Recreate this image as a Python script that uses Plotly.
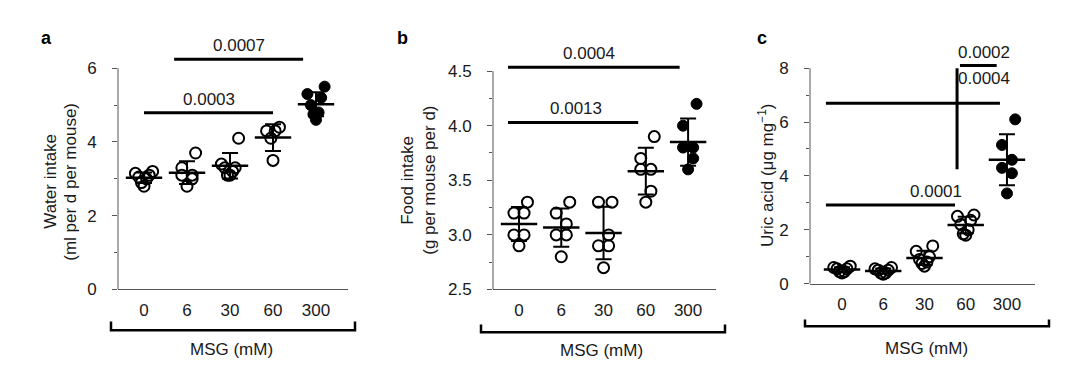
import statistics
import plotly.graph_objects as go

# ---------------- data ----------------
doses = ["0", "6", "30", "60", "300"]

# a: water intake (ml per d per mouse)
water_0 = [3.1, 2.8, 3.2, 3.0, 2.9, 3.05, 3.15]
water_6 = [3.7, 3.0, 2.8, 3.3, 3.1, 3.1]
water_30 = [4.1, 3.2, 3.3, 3.1, 3.1, 3.3, 3.4]
water_60 = [4.4, 4.3, 4.3, 4.1, 3.5]
water_300 = [5.5, 5.3, 5.2, 4.8, 4.75, 4.6, 5.0]

# b: food intake (g per mouse per d)
food_0 = [3.3, 3.2, 3.2, 3.0, 3.0, 2.9]
food_6 = [3.3, 3.2, 3.1, 3.0, 3.0, 2.8]
food_30 = [3.3, 3.3, 3.0, 2.9, 2.9, 2.7]
food_60 = [3.9, 3.7, 3.6, 3.6, 3.4, 3.3]
food_300 = [4.2, 4.0, 3.8, 3.8, 3.7, 3.6]

# c: uric acid (ug mg-1)
uric_0 = [0.6, 0.55, 0.45, 0.4, 0.45, 0.55, 0.65]
uric_6 = [0.55, 0.5, 0.4, 0.35, 0.4, 0.5, 0.6]
uric_30 = [1.4, 1.2, 1.0, 0.9, 0.8, 0.75, 0.65]
uric_60 = [2.55, 2.5, 2.35, 2.2, 2.0, 1.85, 1.8]
uric_300 = [6.1, 5.15, 4.6, 4.3, 4.1, 3.35]

water_groups = [water_0, water_6, water_30, water_60, water_300]
food_groups = [food_0, food_6, food_30, food_60, food_300]
uric_groups = [uric_0, uric_6, uric_30, uric_60, uric_300]

# p-values of comparisons
p_water = ["0.0003", "0.0007"]
p_food = ["0.0013", "0.0004"]
p_uric = ["0.0001", "0.0004", "0.0002"]

# ---------------- style ----------------
FONT = "Liberation Sans, Arial, sans-serif"
TXT = "#1a1a1a"
AXC = "#555555"
W, H = 1080, 373

# horizontal scatter pattern for points (sorted high -> low)
JITTER = {
    5: [0.15, -0.15, 0.05, -0.05, 0.0],
    6: [0.2, -0.12, 0.12, -0.12, 0.12, 0.0],
    7: [0.2, -0.2, 0.12, -0.12, 0.06, -0.06, 0.0],
}


def py(px):
    return (H - px) / H


panels = [
    dict(letter="a", xa="x", ya="y", groups=water_groups,
         xpx=(110, 340), xr=[-0.605, 4.744], y0px=289, ppu=38.0,
         yr=[0, 6.5], ytop=6, tickvals=[0, 2, 4, 6], minor=[1, 3, 5], fmt="d",
         letter_pos=(38, 30),
         titles=[("Water intake", 43), ("(ml per d per mouse)", 63)], title_y=178,
         bracket=(103, 347, 322, 331), msg=(223, 351)),
    dict(letter="b", xa="x2", ya="y2", groups=food_groups,
         xpx=(485, 708), xr=[-0.615, 4.66], y0px=289, ppu=112.5,
         yr=[2.5, 4.6], ytop=4.5, tickvals=[2.5, 3.0, 3.5, 4.0, 4.5],
         minor=[2.75, 3.25, 3.75, 4.25], fmt=".1f",
         letter_pos=(394, 30),
         titles=[("Food intake", 400), ("(g per mouse per d)", 422)], title_y=177,
         bracket=(473, 717, 325, 333), msg=(593, 352)),
    dict(letter="c", xa="x3", ya="y3", groups=uric_groups,
         xpx=(802, 1027), xr=[-0.776, 4.68], y0px=283, ppu=27.75,
         yr=[0, 8.3], ytop=8, tickvals=[0, 2, 4, 6, 8], minor=[1, 3, 5, 7], fmt="d",
         letter_pos=(754, 30),
         titles=[("Uric acid (μg mg<sup>−1</sup>)", 758)], title_y=172,
         bracket=(797, 1041, 320, 327), msg=(918, 350)),
]

# significance bars: (panel index, x0, x1, y0, y1)
sig_lines = [
    (0, 0.0, 3.0, 4.79, 4.79),
    (0, 0.7, 3.7, 6.24, 6.24),
    (1, -0.26, 2.82, 4.03, 4.03),
    (1, -0.26, 3.8, 4.535, 4.535),
    (2, -0.39, 2.74, 2.92, 2.92),
    (2, -0.39, 3.83, 6.7, 6.7),
    (2, 2.79, 2.79, 4.25, 8.0),
    (2, 2.86, 3.75, 8.1, 8.1),
]
# significance labels: (panel, text, x, y, yanchor)
sig_texts = [
    (0, p_water[0], 1.5, 4.79, "bottom"),
    (0, p_water[1], 2.2, 6.24, "bottom"),
    (1, p_food[0], 1.35, 4.03, "bottom"),
    (1, p_food[1], 1.65, 4.535, "bottom"),
    (2, p_uric[0], 2.28, 2.92, "bottom"),
    (2, p_uric[1], 3.45, 7.6, "middle"),
    (2, p_uric[2], 3.45, 8.1, "bottom"),
]

fig = go.Figure()
layout = dict(width=W, height=H, margin=dict(l=0, r=0, t=0, b=0),
              paper_bgcolor="white", plot_bgcolor="white", showlegend=False,
              font=dict(family=FONT, size=17, color=TXT))
shapes = []
annotations = []


def paper_text(text, x, y, size=17, angle=0, color=TXT):
    return dict(text=text, xref="paper", yref="paper", x=x / W, y=py(y),
                xanchor="center", yanchor="middle", textangle=angle,
                showarrow=False, font=dict(size=size, color=color))


for p in panels:
    xa, ya = p["xa"], p["ya"]
    xname = "xaxis" + xa[1:]
    yname = "yaxis" + ya[1:]
    ybot = p["y0px"]
    ytoppx = ybot - (p["yr"][1] - p["yr"][0]) * p["ppu"]

    layout[xname] = dict(
        domain=[p["xpx"][0] / W, p["xpx"][1] / W], range=p["xr"], anchor=ya,
        tickmode="array", tickvals=list(range(len(doses))), ticktext=doses,
        ticks="", showline=True, linecolor=AXC, linewidth=1,
        showgrid=False, zeroline=False, ticklabelstandoff=5,
        tickfont=dict(size=17, color=TXT))
    layout[yname] = dict(
        domain=[py(ybot), py(ytoppx)], range=p["yr"], anchor=xa,
        tickmode="array", tickvals=p["tickvals"],
        ticktext=[format(v, p["fmt"]) if p["fmt"] != "d" else str(int(v)) for v in p["tickvals"]],
        ticks="outside", ticklen=5, tickwidth=1, tickcolor=AXC,
        minor=dict(tickmode="array", tickvals=p["minor"], ticks="outside",
                   ticklen=3, tickwidth=1, tickcolor=AXC, showgrid=False),
        showline=False, showgrid=False, zeroline=False, ticklabelstandoff=12,
        tickfont=dict(size=17, color=TXT))

    # y axis line only up to the top tick
    shapes.append(dict(type="line", xref=xa + " domain", yref=ya, x0=0, x1=0,
                       y0=p["yr"][0], y1=p["ytop"], line=dict(color=AXC, width=1)))

    means, sds = [], []
    for gi, vals in enumerate(p["groups"]):
        vs = sorted(vals, reverse=True)
        offs = JITTER[len(vs)]
        filled = gi == len(p["groups"]) - 1
        fig.add_trace(go.Scatter(
            x=[gi + o for o in offs], y=vs, mode="markers", xaxis=xa, yaxis=ya,
            cliponaxis=False, hoverinfo="y",
            marker=dict(symbol="circle" if filled else "circle-open", size=11,
                        color="black", line=dict(color="black", width=2 if not filled else 1))))
        means.append(statistics.mean(vals))
        sds.append(statistics.stdev(vals))

    fig.add_trace(go.Scatter(
        x=list(range(len(doses))), y=means, mode="markers", xaxis=xa, yaxis=ya,
        cliponaxis=False, hoverinfo="y",
        marker=dict(symbol="line-ew", size=26, color="black",
                    line=dict(color="black", width=2.5)),
        error_y=dict(type="data", array=sds, visible=True, thickness=2,
                     width=8, color="black")))

    lx, ly = p["letter_pos"]
    annotations.append(paper_text("<b>%s</b>" % p["letter"], lx, ly, size=18, color="black"))
    for t, tx in p["titles"]:
        annotations.append(paper_text(t, tx, p["title_y"], angle=-90))
    bx0, bx1, byt, byh = p["bracket"]
    shapes.append(dict(type="path", xref="paper", yref="paper",
                       path="M %f,%f L %f,%f L %f,%f L %f,%f" % (
                           bx0 / W, py(byt), bx0 / W, py(byh), bx1 / W, py(byh), bx1 / W, py(byt)),
                       line=dict(color="black", width=2.5)))
    mx, my = p["msg"]
    annotations.append(paper_text("MSG (mM)", mx, my))

for pi, x0, x1, y0, y1 in sig_lines:
    p = panels[pi]
    shapes.append(dict(type="line", xref=p["xa"], yref=p["ya"], x0=x0, x1=x1,
                       y0=y0, y1=y1, line=dict(color="black", width=3)))

for pi, t, x, y, ya_ in sig_texts:
    p = panels[pi]
    annotations.append(dict(text=t, xref=p["xa"], yref=p["ya"], x=x, y=y,
                            xanchor="center", yanchor=ya_,
                            yshift=2 if ya_ == "bottom" else 0,
                            showarrow=False, font=dict(size=17, color=TXT)))

layout["shapes"] = shapes
layout["annotations"] = annotations
fig.update_layout(**layout)
fig.write_html("out.html")
